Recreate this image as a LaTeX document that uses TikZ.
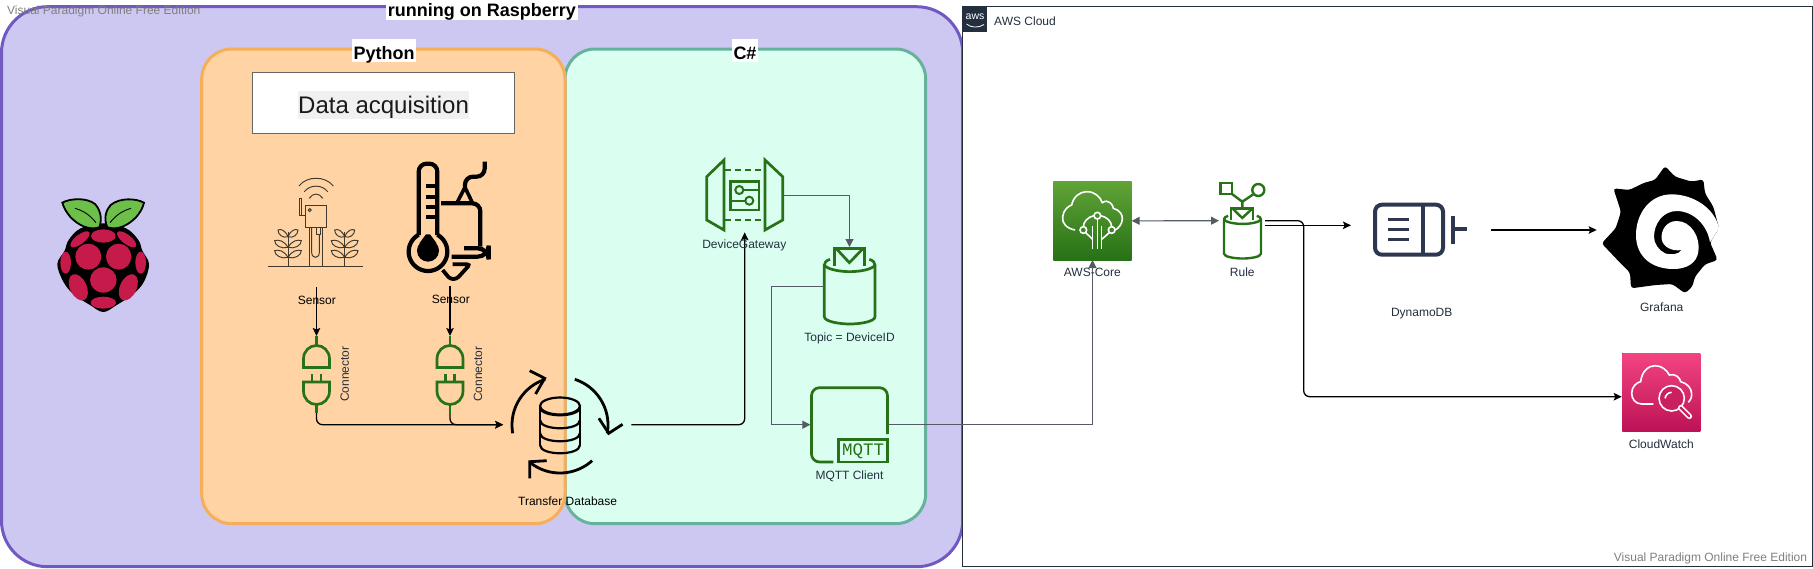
\documentclass[tikz,border=0pt]{standalone}
\usepackage{fontspec}
\setmainfont{Liberation Sans}
\newfontfamily\mqttfont{Liberation Mono}
\usetikzlibrary{arrows.meta}
\definecolor{purplefill}{HTML}{CDC8F1}
\definecolor{purpleline}{HTML}{7159C1}
\definecolor{orangefill}{HTML}{FFD3A3}
\definecolor{orangeline}{HTML}{F7AE5A}
\definecolor{tealfill}{HTML}{DAFFF0}
\definecolor{tealline}{HTML}{67B29D}
\definecolor{awsgreen}{HTML}{277116}
\definecolor{awsink}{HTML}{232F3E}
\definecolor{arrowgray}{HTML}{545B64}
\definecolor{dynink}{HTML}{2E3650}
\definecolor{markgray}{HTML}{808080}
\definecolor{berry}{HTML}{C51A4A}
\definecolor{leafgreen}{HTML}{6CC04A}
\definecolor{coretop}{HTML}{60A337}
\definecolor{cwtop}{HTML}{F34482}
\definecolor{cwbot}{HTML}{BC1356}
\definecolor{cwmid}{HTML}{C82060}
\definecolor{sensink}{HTML}{40392C}
\newcommand{\cylbody}{%
  \draw (60,58) .. controls (48,62) and (43,68) .. (43,75) -- (43,230) .. controls (43,245) and (90,252) .. (119,252) .. controls (150,252) and (195,245) .. (195,230) -- (195,75) .. controls (195,68) and (190,62) .. (178,58);
  \draw (43,75) .. controls (50,88) and (90,95) .. (119,95) .. controls (150,95) and (188,88) .. (195,75);
  \draw (73,78) -- (73,25) -- (163,25) -- (163,78);
  \draw (78,25) -- (118,68) -- (160,25);
}
\tikzset{
  grp/.style={line width=3pt,rounded corners=30pt},
  lbl/.style={font=\fontsize{12}{14}\selectfont,text=awsink,inner sep=0pt},
  lblblack/.style={font=\fontsize{12}{14}\selectfont,text=black,inner sep=0pt},
  wmark/.style={font=\fontsize{12}{14}\selectfont,text=markgray,inner sep=0pt},
  grptitle/.style={font=\bfseries\fontsize{18}{20}\selectfont,text=black,fill=white,inner xsep=1.5pt,inner ysep=0pt,text height=20pt,text depth=3pt},
  iconbox/.style={inner sep=0pt,outer sep=0pt},
  conn/.style={draw=black,line width=1.3pt,rounded corners=6pt,-{Stealth[length=8pt,width=7.5pt,inset=1.5pt]}},
  gconn/.style={draw=arrowgray,line width=1.1pt,-{Stealth[length=8pt,width=8pt,inset=0pt]}},
  gicon/.style={draw=awsgreen,line width=2.7pt},
}
\begin{document}
\begin{tikzpicture}[x=1pt,y=-1pt,line join=miter]
\useasboundingbox (0,0) rectangle (1813,568);
\fill[white] (0,0) rectangle (1813,568);

% groups
\draw[line width=3pt,draw=purpleline,fill=purplefill,rounded corners=46pt] (1.5,6.7) rectangle (962.7,566.7);
\draw[draw=awsink,line width=1pt,fill=white] (962.6,6.7) rectangle (1812.4,566.7);
\draw[grp,draw=tealline,fill=tealfill] (565,49) rectangle (925.7,523.7);
\draw[grp,draw=orangeline,fill=orangefill] (201.7,49) rectangle (565,523.7);

\node[grptitle,text height=11.7pt,text depth=3.3pt,minimum width=190pt] (tRasp) at (482,12.5) {running on Raspberry};
\node[grptitle] (tPy) at (384,50.8) {Python};
\node[grptitle] (tCs) at (745,50.8) {C\#};

\node[draw=black!60,line width=1.2pt,fill=white,minimum width=262pt,minimum height=60.6pt,inner sep=0pt] (dataBox) at (383.6,103) {};
\node[fill=black!6,inner sep=0pt,text height=22.3pt,text depth=5.4pt,font=\fontsize{24}{26}\selectfont,text=black!90] (dataTxt) at (383.6,104.9) {Data acquisition};

% raspberry
\begin{scope}[shift={(50,190)},scale=1/3]
  \fill[black] plot[smooth cycle,tension=.6] coordinates {(160,100) (228,115) (265,150) (277,182) (297,222) (282,275) (250,312) (200,345) (160,366) (120,345) (70,312) (40,275) (22,222) (44,182) (56,150) (92,115)};
  \foreach \cx/\cy/\rx/\ry/\ang in {160/138/37/20/0, 90/148/35/14/38, 230/148/35/14/-38, 115/200/39/39/0, 206/200/38/39/0, 47/218/16/33/0, 272/218/16/33/0, 160/270/40/38/0, 85/292/25/42/25, 235/292/25/42/-25, 160/338/38/18/0}
    \fill[berry,rotate around={\ang:(\cx,\cy)}] (\cx,\cy) ellipse [x radius=\rx,y radius=\ry];
  \draw[black,line width=1.8pt,fill=leafgreen] (37,38) .. controls (60,25) and (110,22) .. (135,42) .. controls (150,58) and (158,85) .. (148,112) .. controls (115,122) and (85,105) .. (62,82) .. controls (50,68) and (42,55) .. (37,38) -- cycle;
  \draw[black,line width=1.8pt,fill=leafgreen] (282,38) .. controls (258,25) and (210,22) .. (182,45) .. controls (168,60) and (160,85) .. (172,112) .. controls (205,122) and (235,105) .. (258,82) .. controls (270,68) and (278,55) .. (282,38) -- cycle;
  \draw[black,line width=.9pt] (75,55) .. controls (100,62) and (120,75) .. (138,98);
  \draw[black,line width=.9pt] (243,55) .. controls (218,62) and (198,75) .. (180,98);
\end{scope}
\node[iconbox,minimum width=91pt,minimum height=115pt] (rasp) at (103,254) {};

% field sensor icon
\begin{scope}[shift={(260,155)},scale=1/3,draw=sensink,line width=.95pt]
  \draw[line width=1.2pt] (25,335) -- (310,335);
  \draw (136,152) rectangle (200,217);
  \draw (149,165) circle [radius=4.5];
  \draw (136,180) -- (119,180) -- (119,130) -- (125,130) -- (125,180);
  \draw (147,217) -- (147,335) (188,217) -- (188,335);
  \draw (155,217) -- (155,292) .. controls (155,312) and (178,312) .. (178,292) -- (178,238);
  \draw (168,217) -- (168,238) -- (180,238) -- (180,217);
  \draw (117,93) .. controls (140,62) and (196,62) .. (220,93);
  \draw (133,110) .. controls (150,88) and (186,88) .. (203,110);
  \draw (148,130) .. controls (158,113) and (178,113) .. (188,130);
  \foreach \p in {84,254} {
    \draw (\p,232) -- (\p,335);
    \foreach \y/\w in {245/30,277/40,307/40} {
      \draw (\p,\y) .. controls ({\p-\w*.3},{\y-20}) and ({\p-\w*.7},{\y-24}) .. ({\p-\w},{\y-20}) .. controls ({\p-\w},{\y-6}) and ({\p-\w*.5},{\y+6}) .. (\p,\y);
      \draw (\p,\y) .. controls ({\p+\w*.3},{\y-20}) and ({\p+\w*.7},{\y-24}) .. ({\p+\w},{\y-20}) .. controls ({\p+\w},{\y-6}) and ({\p+\w*.5},{\y+6}) .. (\p,\y);
    }
  }
\end{scope}
\node[iconbox,minimum width=96pt,minimum height=90pt] (sensA) at (316,222) {};

% thermometer / gauge icon
\begin{scope}[shift={(260,155)},scale=1/3,black,line width=4.2pt]
  \draw[rounded corners=8pt] (476,240) -- (476,26) -- (532,26) -- (532,240);
  \draw plot[domain=-61:241,samples=50] ({504+58*cos(\x)},{290+58*sin(\x)});
  \fill (504,287) circle [radius=33];
  \fill (498,238) -- (510,238) -- (530,265) -- (478,265) -- cycle;
  \draw (498,92) -- (532,92) (498,125) -- (532,125) (498,155) -- (532,155) (498,187) -- (532,187);
  \draw[rounded corners=8pt] (543,145) -- (661,145) -- (661,275);
  \draw[line width=3.6pt] (590,145) -- (615,97) -- (638,145);
  \draw[rounded corners=8pt] (615,97) -- (615,65) -- (674,65) -- (674,20);
  \draw[rounded corners=11pt] (612,280) -- (686,280) -- (686,305) -- (575,305);
  \draw[line width=3.8pt,rounded corners=3pt] (578,328) -- (630,328) -- (590,372) -- (570,372) -- (548,345);
\end{scope}
\node[iconbox,minimum width=84pt,minimum height=120pt] (sensB) at (449,222) {};

% plugs
\foreach \cx in {316.5,450} {
  \draw[gicon] (\cx,336) -- (\cx,345);
  \draw[gicon] ({\cx-13},367.5) -- ({\cx-13},359) .. controls ({\cx-13},351) and ({\cx-7},345.5) .. (\cx,345.5) .. controls ({\cx+7},345.5) and ({\cx+13},351) .. ({\cx+13},359) -- ({\cx+13},367.5) -- cycle;
  \draw[gicon] ({\cx-4.4},374) -- ({\cx-4.4},382) ({\cx+4.4},374) -- ({\cx+4.4},382);
  \draw[gicon] ({\cx-13},382) -- ({\cx+13},382) -- ({\cx+13},391) .. controls ({\cx+13},399) and ({\cx+7},404.5) .. (\cx,404.5) .. controls ({\cx-7},404.5) and ({\cx-13},399) .. ({\cx-13},391) -- cycle;
  \draw[gicon] (\cx,404.5) -- (\cx,413);
}
\node[iconbox,minimum width=28pt,minimum height=77pt] (plugA) at (316.5,374.5) {};
\node[iconbox,minimum width=28pt,minimum height=77pt] (plugB) at (450,374.5) {};

% transfer DB icon
\begin{scope}[black,line width=2.2pt]
  \draw (560,406) ellipse [x radius=20,y radius=8.5];
  \draw (540,406) -- (540,445) (580,406) -- (580,445);
  \foreach \y in {407,420,433,445}
    \draw (540,\y) .. controls (540,{\y+11}) and (580,{\y+11}) .. (580,\y);
\end{scope}
\begin{scope}[black,line width=2.8pt]
  \draw plot[domain=170:252,samples=30] ({560+48*cos(\x)},{425+48*sin(\x)});
  \draw plot[domain=-72:10,samples=30] ({560+48*cos(\x)},{425+48*sin(\x)});
  \draw plot[domain=48:128,samples=30] ({560+48*cos(\x)},{425+48*sin(\x)});
  \draw (529.7,370.7) -- (544.7,378.3) -- (535.6,394);
  \draw (598.9,418.3) -- (608.7,433.3) -- (622.6,424.3);
  \draw (546.7,460.7) -- (529.7,461.7) -- (529.7,478.3);
\end{scope}
\node[iconbox,minimum width=110pt,minimum height=110pt] (tdb) at (567,425) {};

% gateway icon
\begin{scope}[draw=awsgreen,line width=2.7pt]
  \draw (724,160) -- (706.7,176.7) -- (706.7,220) -- (724,230) -- cycle;
  \draw (765,160) -- (782.7,176.7) -- (782.7,220) -- (765,230) -- cycle;
  \draw[dash pattern=on 6pt off 4pt] (725,170) -- (765,170) (725,220) -- (765,220);
  \draw[line width=2.4pt] (730.5,181.5) rectangle (759,210);
  \draw[line width=2pt] (739.3,190) circle [radius=4pt];
  \draw[line width=2pt] (749.3,200.7) circle [radius=4pt];
  \draw[line width=2pt] (743.3,190) -- (759,190) (730.5,200.7) -- (745.3,200.7);
\end{scope}
\node[iconbox,minimum width=77.4pt,minimum height=74.3pt] (gateway) at (744.7,195.15) {};

% topic icon
\begin{scope}[shift={(810,240)},scale=1/3,draw=awsgreen,line width=2.7pt]
  \cylbody
\end{scope}
\node[iconbox,minimum width=51pt,minimum height=76.3pt] (topic) at (849.5,285.15) {};

% mqtt icon
\begin{scope}[draw=awsgreen,line width=2.7pt]
  \draw[rounded corners=8pt] (833.3,462) -- (811.5,462) -- (811.5,387.7) -- (887.5,387.7) -- (887.5,434);
  \draw (838.8,439.5) rectangle (887.5,462);
\end{scope}
\node[inner sep=0pt,text=awsgreen,font=\mqttfont\fontsize{17.5}{18}\selectfont] (mqttTxt) at (863,451) {MQTT};
\node[iconbox,minimum width=77.9pt,minimum height=77.4pt] (mqtt) at (849.35,424.7) {};

% AWS header
\fill[awsink] (962.6,6.7) rectangle (987.3,32);
\node[inner sep=0pt,text=white,font=\fontsize{10.5}{11}\selectfont] (awsLogo) at (975,17) {aws};
\draw[white,line width=.8pt] (966.5,24) .. controls (971,28) and (979,28) .. (984,24.5);
\node[lbl,anchor=west] (awsCloud) at (994,20.8) {AWS Cloud};

% AWS core
\fill[top color=coretop,bottom color=awsgreen] (1053.3,181.7) rectangle (1131.7,260);
\begin{scope}[shift={(1020,150)},scale=1/3,draw=white,line width=1.6pt]
  \draw (165,240) .. controls (140,235) and (125,220) .. (128,200) .. controls (130,180) and (145,168) .. (155,165) .. controls (160,140) and (180,125) .. (200,125) .. controls (225,125) and (240,140) .. (247,158) .. controls (265,145) and (280,165) .. (280,175) .. controls (300,180) and (308,195) .. (307,208) .. controls (305,225) and (295,235) .. (285,240);
  \draw (232,197) circle [radius=10];
  \draw (190,240) circle [radius=10];
  \draw (275,240) circle [radius=10];
  \draw (232,207) -- (232,298);
  \draw (218,228) -- (218,298) (245,228) -- (245,298);
  \draw (197,248) -- (218,268) (268,248) -- (245,268);
  \draw (222,197) .. controls (205,200) and (190,215) .. (190,230);
  \draw (242,197) .. controls (260,200) and (275,215) .. (275,230);
\end{scope}
\node[iconbox,minimum width=78.4pt,minimum height=78.3pt] (core) at (1092.5,220.85) {};

% rule icon
\begin{scope}[shift={(1213.5,203)},xscale=.2434,yscale=.2203,draw=awsgreen,line width=2.4pt]
  \cylbody
\end{scope}
\begin{scope}[draw=awsgreen,line width=2.4pt]
  \draw (1220.5,183) rectangle (1232,194);
  \draw (1258.3,190) circle [radius=6pt];
  \draw (1232,194) -- (1242.3,201.7) -- (1253,194.5) (1242.3,201.7) -- (1242.3,208.5);
\end{scope}
\node[iconbox,minimum width=46pt,minimum height=77.4pt] (rule) at (1242,220.7) {};

% dynamo icon
\begin{scope}[draw=dynink,line width=4pt]
  \draw[rounded corners=7pt] (1375,204.7) rectangle (1443,254.7);
  \draw (1422.7,204.7) -- (1422.7,254.7);
  \draw[line width=3.6pt] (1388.3,219.3) -- (1409,219.3) (1388.3,229.3) -- (1409,229.3) (1388.3,239.3) -- (1409,239.3);
  \draw (1452.7,216) -- (1452.7,244);
  \draw (1452.7,229.3) -- (1466.7,229.3);
\end{scope}
\node[iconbox,minimum width=94pt,minimum height=56pt] (dyn) at (1420,229.5) {};

% grafana
\begin{scope}[shift={(1595,160)},scale=1/3]
  \fill[black,rounded corners=3pt] (210,18) -- (240,50) -- (290,65) -- (325,58) -- (330,100) -- (355,140) -- (372,205) -- (345,247) -- (368,300) -- (330,313) -- (300,350) -- (292,380) -- (270,400) -- (232,372) -- (182,375) -- (108,385) -- (105,338) -- (72,305) -- (20,250) -- (62,205) -- (78,155) -- (55,85) -- (103,90) -- (148,68) -- (180,60) -- cycle;
\end{scope}
\begin{scope}[shift={(1630,185)},scale=1/3]
  \fill[white] (267,130) .. controls (255,70) and (190,28) .. (125,28) .. controls (60,28) and (18,85) .. (18,150) .. controls (18,215) and (65,252) .. (130,252) .. controls (170,252) and (200,235) .. (205,200) .. controls (212,160) and (185,108) .. (140,108) .. controls (110,108) and (92,135) .. (95,162) .. controls (98,185) and (125,200) .. (155,195) .. controls (145,210) and (120,210) .. (105,205) .. controls (85,195) and (72,175) .. (72,155) .. controls (72,115) and (100,78) .. (140,78) .. controls (190,78) and (232,120) .. (240,172) -- cycle;
\end{scope}
\node[iconbox,minimum width=118pt,minimum height=128pt] (grafana) at (1661,230) {};

% cloudwatch
\fill[top color=cwtop,bottom color=cwbot] (1622.3,353.3) rectangle (1700.3,431);
\begin{scope}[shift={(1400,140)},scale=1/3,draw=white,line width=1.6pt]
  \draw (760,792) -- (725,792) .. controls (705,792) and (695,775) .. (695,760) .. controls (695,740) and (710,727) .. (722,725) .. controls (725,695) and (745,677) .. (765,677) .. controls (785,677) and (800,690) .. (808,705) .. controls (825,700) and (840,712) .. (842,725) .. controls (862,730) and (875,745) .. (875,762) .. controls (875,775) and (870,782) .. (865,787);
  \draw[fill=cwmid] (815,775) circle [radius=38];
  \draw (795,775) .. controls (797,765) and (805,757) .. (815,757);
  \draw[line width=5.5pt,line cap=round] (842,803) -- (868,829);
  \draw[draw=cwmid,line width=2.4pt,line cap=round] (842,803) -- (868,829);
\end{scope}
\node[iconbox,minimum width=78pt,minimum height=77.7pt] (cw) at (1661.3,392.15) {};

% named connector ends
\coordinate (s1out) at (316.5,287);
\coordinate (s2out) at (450,286);
\coordinate (dbin) at (503.2,424.7);
\coordinate (dbout) at (631.3,424.7);
\coordinate (topicw) at (824,286.3);
\coordinate (topicbend) at (771.3,286.3);
\coordinate (ruleB) at (1265,225.3);
\coordinate (dynin) at (1351,225.3);
\coordinate (cwin) at (1621.7,396.7);
\coordinate (cwbend) at (1303.7,220.7);
\coordinate (dynout) at (1491,230);
\coordinate (grafin) at (1596.7,230);

% connectors
\draw[conn] (s1out) -- (plugA.north);
\draw[conn] (s2out) -- (plugB.north);
\draw[conn] (plugA.south) |- (dbin);
\draw[conn] (plugB.south) |- (dbin);
\draw[conn] (dbout) -| (gateway.south);
\draw[gconn] (gateway.east) -| (topic.north);
\draw[gconn] (topicw) -- (topicbend) |- (mqtt.west);
\draw[gconn] (mqtt.east) -| (core.south);
\draw[gconn,{Stealth[length=8pt,width=8pt,inset=0pt]}-{Stealth[length=8pt,width=8pt,inset=0pt]}] (core.east) -- (rule.west);
\draw[conn] (ruleB) -- (dynin);
\draw[conn] (rule.east) -- (cwbend) |- (cwin);
\draw[conn] (dynout) -- (grafin);

% labels
\node[lblblack] (lSensA) at (316.9,300.7) {Sensor};
\node[lblblack] (lSensB) at (450.8,299.7) {Sensor};
\node[lbl,rotate=90] (lConnA) at (344.8,374) {Connector};
\node[lbl,rotate=90] (lConnB) at (478,374) {Connector};
\node[lblblack] (lTdb) at (567.6,501.7) {Transfer Database};
\node[lbl] (lGate) at (744.3,245.7) {DeviceGateway};
\node[lbl] (lTopic) at (849.5,338.7) {Topic = DeviceID};
\node[lbl] (lMqtt) at (849.5,476.7) {MQTT Client};
\node[lbl] (lCore) at (1092.3,272.7) {AWS-Core};
\node[lbl] (lRule) at (1242.3,272.7) {Rule};
\node[lbl] (lDyn) at (1421.7,313.7) {DynamoDB};
\node[lbl] (lGraf) at (1661.7,307.7) {Grafana};
\node[lbl] (lCw) at (1661.3,444.7) {CloudWatch};

% watermarks
\node[wmark,anchor=west] (wmA) at (7,11.7) {Visual Paradigm Online Free Edition};
\node[wmark,anchor=east] (wmB) at (1807.3,558.7) {Visual Paradigm Online Free Edition};
\end{tikzpicture}
\end{document}
